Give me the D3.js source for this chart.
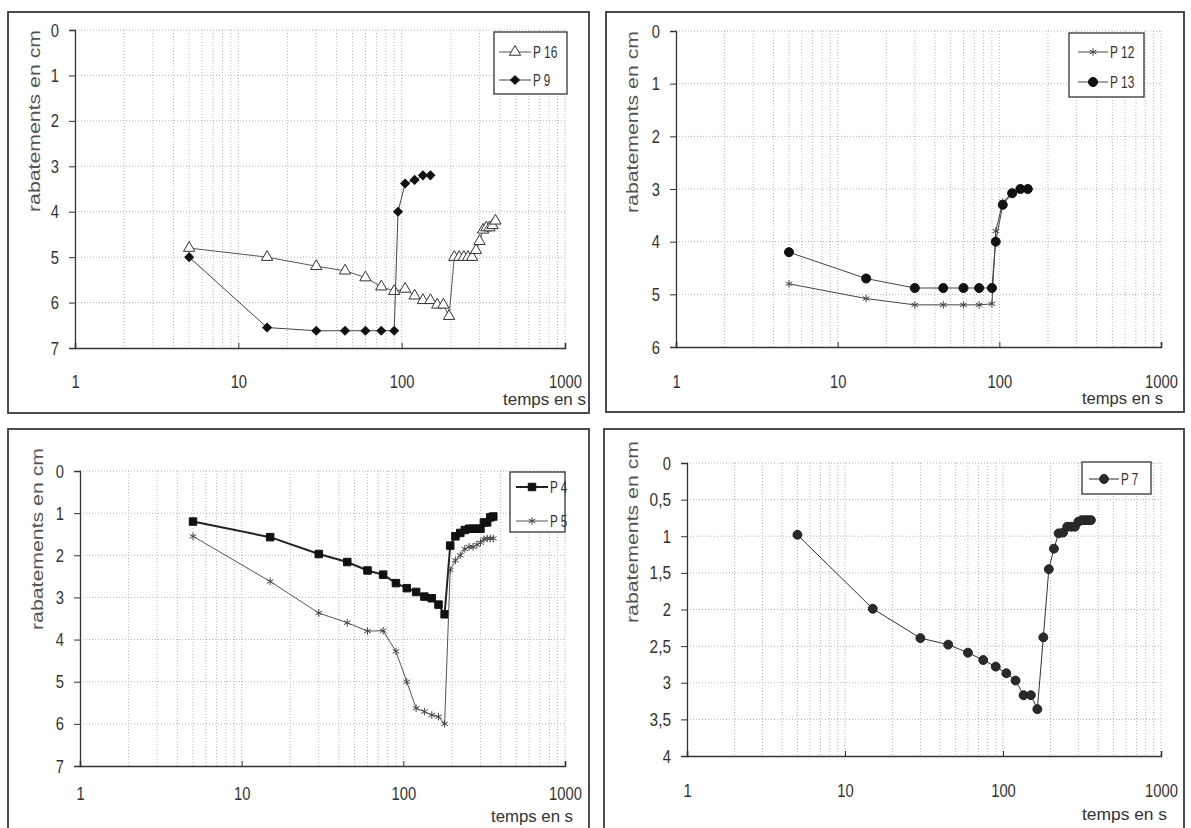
<!DOCTYPE html>
<html><head><meta charset="utf-8">
<script src="https://cdn.jsdelivr.net/npm/d3@7"></script>
<style>body{margin:0;background:#fff} svg{display:block}</style>
</head><body><svg id="c" width="1191" height="828"></svg>
<script>
// ---------- data ----------
const xTickValues = [1, 10, 100, 1000];
const yTicks7 = [0, 1, 2, 3, 4, 5, 6, 7];
const yTicks6 = [0, 1, 2, 3, 4, 5, 6];
const yTicks4 = [0, 0.5, 1, 1.5, 2, 2.5, 3, 3.5, 4];
const xTitle = "temps en s";
const yTitle = "rabatements en cm";

const tP16 = [5,15,30,45,60,75,90,105,120,135,150,165,180,195,210,225,240,255,270,285,300,315,330,345,360,375];
const vP16 = [4.8,5.0,5.2,5.3,5.45,5.65,5.75,5.7,5.85,5.95,5.95,6.05,6.05,6.3,5.0,5.0,5.0,5.0,5.0,4.85,4.65,4.4,4.35,4.35,4.3,4.2];
const tP9 = [5,15,30,45,60,75,90,95,105,120,135,150];
const vP9 = [5.0,6.55,6.62,6.62,6.62,6.62,6.62,4.0,3.38,3.3,3.2,3.2];

const tP12 = [5,15,30,45,60,75,90,95,105,120,135,150];
const vP12 = [4.8,5.08,5.2,5.2,5.2,5.2,5.18,3.8,3.25,3.07,3.0,3.0];
const tP13 = [5,15,30,45,60,75,90,95,105,120,135,150];
const vP13 = [4.2,4.7,4.88,4.88,4.88,4.88,4.88,4.0,3.3,3.08,3.0,3.0];

const tP4 = [5,15,30,45,60,75,90,105,120,135,150,165,180,195,210,225,240,255,270,285,300,315,330,345,360];
const vP4 = [1.2,1.57,1.97,2.16,2.36,2.46,2.66,2.78,2.87,2.98,3.02,3.17,3.4,1.77,1.55,1.47,1.4,1.37,1.37,1.37,1.37,1.22,1.22,1.1,1.08];
const tP5 = [5,15,30,45,60,75,90,105,120,135,150,165,180,195,210,225,240,255,270,285,300,315,330,345,360];
const vP5 = [1.55,2.62,3.37,3.6,3.8,3.79,4.28,5.0,5.63,5.71,5.79,5.83,6.0,2.35,2.12,2.0,1.85,1.8,1.8,1.75,1.7,1.62,1.6,1.6,1.6];

const tP7 = [5,15,30,45,60,75,90,105,120,135,150,165,180,195,210,225,240,255,270,285,300,315,330,345,360];
const vP7 = [0.98,1.99,2.39,2.48,2.59,2.69,2.78,2.87,2.97,3.17,3.17,3.36,2.38,1.45,1.17,0.96,0.95,0.87,0.87,0.87,0.8,0.78,0.78,0.78,0.78];

// ---------- styles ----------
const MK = {
  triangle: {type: d3.symbolTriangle, size: 55, fill: "#fff", stroke: "#333", sw: 1, rot: 0},
  diamond:  {type: d3.symbolSquare,   size: 38, fill: "#111", stroke: "#111", sw: 1, rot: 45},
  asterisk: {type: d3.symbolAsterisk, size: 40, fill: "none", stroke: "#444", sw: 1, rot: 0},
  circle:   {type: d3.symbolCircle,   size: 64, fill: "#111", stroke: "#111", sw: 1, rot: 0},
  square:   {type: d3.symbolSquare,   size: 56, fill: "#111", stroke: "#111", sw: 1, rot: 0},
  circle2:  {type: d3.symbolCircle,   size: 62, fill: "#2a2a2a", stroke: "#222", sw: 1, rot: 0}
};

const panels = [
  {frame:[8,12,581,401], plot:{l:75,r:565,t:30,b:348}, ymax:7, yTicks:yTicks7, xPad:27,
   title:{x:40,y:121}, xt:{x:503,y:405,w:83},
   legend:{x:494,y:32,w:73,h:62,lx:499,lw:32,rows:[52,80]},
   series:[{name:"P 16",t:tP16,v:vP16,mk:"triangle",color:"#555",w:1},
           {name:"P 9",t:tP9,v:vP9,mk:"diamond",color:"#444",w:1}]},
  {frame:[606,12,578,400], plot:{l:676,r:1161,t:31,b:347}, ymax:6, yTicks:yTicks6, xPad:28,
   title:{x:638,y:122}, xt:{x:1082,y:404,w:81},
   legend:{x:1069,y:33,w:75,h:64,lx:1078,lw:30,rows:[52,82]},
   series:[{name:"P 12",t:tP12,v:vP12,mk:"asterisk",color:"#444",w:1},
           {name:"P 13",t:tP13,v:vP13,mk:"circle",color:"#444",w:1}]},
  {frame:[8,429,581,420], plot:{l:80,r:565,t:471,b:766}, ymax:7, yTicks:yTicks7, xPad:21,
   title:{x:43,y:539}, xt:{x:491,y:822,w:82},
   legend:{x:510,y:472,w:55,h:60,lx:516,lw:32,rows:[487,521]},
   series:[{name:"P 4",t:tP4,v:vP4,mk:"square",color:"#222",w:2},
           {name:"P 5",t:tP5,v:vP5,mk:"asterisk",color:"#555",w:1}]},
  {frame:[604,429,580,420], plot:{l:687,r:1161,t:463,b:756}, ymax:4, yTicks:yTicks4, xPad:28,
   title:{x:638,y:532}, xt:{x:1082,y:820,w:85},
   legend:{x:1082,y:462,w:69,h:32,lx:1089,lw:30,rows:[479]},
   series:[{name:"P 7",t:tP7,v:vP7,mk:"circle2",color:"#333",w:1}]}
];

const FONT = "'Liberation Sans','Arial',sans-serif";
const svg = d3.select("#c");
// condensed look: width per character
const narrowLen = s => s.split("").reduce((a, c) => a + (c === "," ? 5 : c === " " ? 4 : 8.2), 0);

function marker(g, key, x, y) {
  const m = MK[key];
  g.append("path").attr("d", d3.symbol().type(m.type).size(m.size)())
    .attr("transform", `translate(${x},${y}) rotate(${m.rot})`)
    .attr("fill", m.fill).attr("stroke", m.stroke).attr("stroke-width", m.sw);
}

panels.forEach(p => {
  const g = svg.append("g");
  const [fx, fy, fw, fh] = p.frame;
  g.append("rect").attr("x", fx).attr("y", fy).attr("width", fw).attr("height", fh)
    .attr("fill", "#fff").attr("stroke", "#3a3a3a").attr("stroke-width", 1.8);

  const x = d3.scaleLog().domain([1, 1000]).range([p.plot.l, p.plot.r]);
  const y = d3.scaleLinear().domain([0, p.ymax]).range([p.plot.t, p.plot.b]);

  // grid
  const minor = [];
  [1, 10, 100].forEach(dec => { for (let k = 2; k <= 10; k++) minor.push(dec * k); });
  g.append("g").selectAll("line").data(minor).join("line")
    .attr("x1", d => x(d)).attr("x2", d => x(d))
    .attr("y1", p.plot.t).attr("y2", p.plot.b)
    .attr("stroke", "#b5b5b5").attr("stroke-width", 1).attr("stroke-dasharray", "1,2");
  g.append("g").selectAll("line").data(p.yTicks.filter(d => d < p.ymax)).join("line")
    .attr("x1", p.plot.l).attr("x2", p.plot.r)
    .attr("y1", d => y(d)).attr("y2", d => y(d))
    .attr("stroke", "#b5b5b5").attr("stroke-width", 1).attr("stroke-dasharray", "1,2");

  // y axis
  const ya = g.append("g").attr("transform", `translate(${p.plot.l},0)`)
    .call(d3.axisLeft(y).tickValues(p.yTicks).tickSize(6).tickPadding(10)
      .tickFormat(d => String(d).replace(".", ",")));
  ya.select(".domain").attr("stroke", "#333").attr("stroke-width", 1.3);
  ya.selectAll(".tick line").attr("stroke", "#333");
  ya.selectAll("text").attr("font-family", FONT).attr("font-size", 19).attr("fill", "#333")
    .attr("textLength", function() { return narrowLen(this.textContent); })
    .attr("lengthAdjust", "spacingAndGlyphs");

  // x axis
  const xa = g.append("g").attr("transform", `translate(0,${p.plot.b})`)
    .call(d3.axisBottom(x).tickValues(xTickValues).tickSize(-5).tickPadding(p.xPad)
      .tickFormat(d3.format("d")));
  xa.select(".domain").attr("stroke", "#333").attr("stroke-width", 1.6);
  xa.selectAll(".tick line").attr("stroke", "#333");
  xa.selectAll("text").attr("font-family", FONT).attr("font-size", 19).attr("fill", "#333")
    .attr("textLength", function() { return narrowLen(this.textContent); })
    .attr("lengthAdjust", "spacingAndGlyphs");

  // titles
  g.append("text").attr("transform", `translate(${p.title.x},${p.title.y}) rotate(-90)`)
    .attr("text-anchor", "middle").attr("font-family", FONT).attr("font-size", 16)
    .attr("fill", "#555").attr("textLength", 182).attr("lengthAdjust", "spacingAndGlyphs")
    .text(yTitle);
  g.append("text").attr("x", p.xt.x).attr("y", p.xt.y)
    .attr("font-family", FONT).attr("font-size", 16).attr("fill", "#333")
    .attr("textLength", p.xt.w).attr("lengthAdjust", "spacingAndGlyphs").text(xTitle);

  // series
  p.series.forEach(s => {
    const pts = s.t.map((t, i) => ({t, v: s.v[i]}));
    g.append("path").datum(pts)
      .attr("d", d3.line().x(d => x(d.t)).y(d => y(d.v)))
      .attr("fill", "none").attr("stroke", s.color).attr("stroke-width", s.w);
    const mg = g.append("g");
    pts.forEach(d => marker(mg, s.mk, x(d.t), y(d.v)));
  });

  // legend
  const L = p.legend;
  g.append("rect").attr("x", L.x).attr("y", L.y).attr("width", L.w).attr("height", L.h)
    .attr("fill", "#fff").attr("stroke", "#333").attr("stroke-width", 1.3);
  p.series.forEach((s, i) => {
    const ly = L.rows[i];
    g.append("line").attr("x1", L.lx).attr("x2", L.lx + L.lw).attr("y1", ly).attr("y2", ly)
      .attr("stroke", s.color).attr("stroke-width", s.w);
    marker(g, s.mk, L.lx + L.lw / 2, ly);
    g.append("text").attr("x", L.lx + L.lw + 2).attr("y", ly + 6)
      .attr("font-family", FONT).attr("font-size", 17).attr("fill", "#333")
      .attr("textLength", narrowLen(s.name) * 0.85).attr("lengthAdjust", "spacingAndGlyphs")
      .text(s.name);
  });
});
</script></body></html>
